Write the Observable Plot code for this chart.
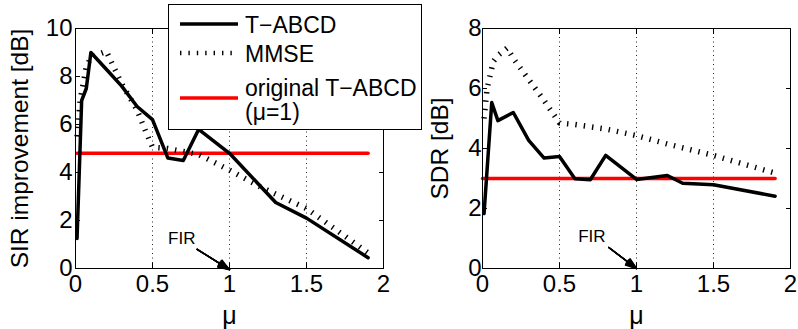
<!DOCTYPE html>
<html><head><meta charset="utf-8">
<script src="https://cdn.jsdelivr.net/npm/d3@7"></script>
<script src="https://cdn.jsdelivr.net/npm/@observablehq/plot@0.6"></script>
<style>
body{margin:0;background:#fff;font-family:"Liberation Sans",Arial,sans-serif;}
#wrap{position:relative;width:798px;height:329px;overflow:hidden;background:#fff;}
.panel{position:absolute;top:0;}
#legend{position:absolute;left:168px;top:4px;}
</style></head><body>
<div id="wrap"><div id="p1" class="panel" style="left:0"></div><div id="p2" class="panel" style="left:400px"></div><div id="legend"></div></div>
<script>
// ---- data ----
const xTicks = [0, 0.5, 1, 1.5, 2];
const xGrid = [0.5, 1, 1.5];
const sirTicks = [0, 2, 4, 6, 8, 10];
const sdrTicks = [0, 2, 4, 6, 8];
const seriesNames = ["T\u2212ABCD", "MMSE", "original T\u2212ABCD", "(\u03bc=1)"];

// SIR improvement (left)
const sirTabMu = [0.01, 0.04, 0.07, 0.1, 0.2, 0.3, 0.4, 0.5, 0.6, 0.7, 0.8, 1.0, 1.3, 1.5, 1.9];
const sirTab   = [1.25, 7.0, 7.5, 9.0, 8.3, 7.6, 6.75, 6.2, 4.6, 4.5, 5.8, 4.8, 2.75, 2.1, 0.45];
const sirMmseMu = [0.01, 0.03, 0.07, 0.1, 0.2, 0.3, 0.4, 0.45, 0.5, 0.6, 0.8, 1.0, 1.2, 1.5, 1.9];
const sirMmse   = [5.5, 7.0, 8.4, 8.8, 9.05, 7.7, 6.6, 5.8, 5.05, 5.0, 4.75, 4.1, 3.4, 2.5, 0.65];
const sirRefMu = [0.01, 1.9];
const sirRef   = [4.8, 4.8];

// SDR (right)
const sdrTabMu = [0.01, 0.06, 0.1, 0.2, 0.3, 0.4, 0.5, 0.6, 0.7, 0.8, 1.0, 1.2, 1.3, 1.5, 1.9];
const sdrTab   = [1.83, 5.53, 4.93, 5.2, 4.27, 3.68, 3.73, 2.99, 2.96, 3.77, 2.97, 3.1, 2.84, 2.79, 2.41];
const sdrMmseMu = [0.01, 0.03, 0.07, 0.1, 0.16, 0.2, 0.3, 0.4, 0.5, 0.6, 0.8, 1.0, 1.2, 1.5, 1.9];
const sdrMmse   = [5.0, 6.0, 6.9, 7.1, 7.35, 7.0, 6.3, 5.6, 4.85, 4.8, 4.65, 4.43, 4.15, 3.77, 3.18];
const sdrRefMu = [0.0, 1.9];
const sdrRef   = [3.0, 3.0];

// FIR annotations (text position, arrow start, arrow tip)
const firLabel = "FIR";
const sirFir = {tx: 0.69, ty: 1.25, x1: 0.79, y1: 0.8, x2: 1.0, y2: -0.05};
const sdrFir = {tx: 0.71, ty: 1.07, x1: 0.82, y1: 0.7, x2: 1.0, y2: 0.0};

const font = "Liberation Sans, Arial, Helvetica, sans-serif";
const hatch = "1.4 7";
const headAngles = [40, 32, 24, 16, 8];
const zip = (xs, ys) => xs.map((x, i) => ({x, y: ys[i]}));

function panel({width, marginLeft, marginRight, yDomain, yTicks, yLabel, yLabelDx, yPad, tabX, tabY, mmX, mmY, refX, refY, fir}) {
  return Plot.plot({
    width, height: 329, marginLeft, marginRight, marginTop: 28, marginBottom: 61,
    style: {fontFamily: font, fontSize: "24px", background: "transparent", overflow: "visible", color: "#000"},
    x: {domain: [0, 2]},
    y: {domain: yDomain},
    marks: [
      Plot.gridX(xGrid, {stroke: "#000", strokeOpacity: 0.85, strokeWidth: 1, strokeDasharray: "1 3.5"}),
      Plot.line(zip(refX, refY), {x: "x", y: "y", stroke: "#ff0000", strokeWidth: 3.5}),
      Plot.line(zip(mmX, mmY), {x: "x", y: "y", stroke: "#000", strokeWidth: 5.5, strokeDasharray: hatch, strokeLinecap: "butt"}),
      Plot.line(zip(tabX, tabY), {x: "x", y: "y", stroke: "#000", strokeWidth: 3.5, strokeLinejoin: "round"}),
      ...headAngles.map(a => Plot.arrow([fir], {x1: "x1", y1: "y1", x2: "x2", y2: "y2", stroke: "#000", strokeWidth: 1.4, headLength: 13, headAngle: a})),
      Plot.text([fir], {x: "tx", y: "ty", text: () => firLabel, fontSize: 17, fill: "#000"}),
      Plot.frame({stroke: "#000", strokeWidth: 1}),
      Plot.axisX({ticks: xTicks, tickSize: -5, tickPadding: 11, tickFormat: d => String(d), label: null, fontSize: 24}),
      Plot.axisX({anchor: "top", ticks: xTicks, tickSize: -5, tickFormat: () => "", label: null}),
      Plot.axisY({ticks: yTicks, tickSize: -5, tickPadding: yPad, tickFormat: d => String(d), label: null, fontSize: 24}),
      Plot.axisY({anchor: "right", ticks: yTicks, tickSize: -5, tickFormat: () => "", label: null}),
      Plot.text([yLabel], {text: d => d, frameAnchor: "left", dx: yLabelDx, rotate: -90, textAnchor: "middle", lineAnchor: "middle", fontSize: 24.5, fill: "#000"}),
      Plot.text(["\u03bc"], {text: d => d, frameAnchor: "bottom", dy: 47, textAnchor: "middle", lineAnchor: "middle", fontSize: 25, fill: "#000"})
    ]
  });
}

document.getElementById("p1").append(panel({
  width: 400, marginLeft: 75, marginRight: 17, yDomain: [0, 10], yTicks: sirTicks,
  yLabel: "SIR improvement [dB]", yLabelDx: -55, yPad: 8,
  tabX: sirTabMu, tabY: sirTab, mmX: sirMmseMu, mmY: sirMmse, refX: sirRefMu, refY: sirRef, fir: sirFir
}));
document.getElementById("p2").append(panel({
  width: 398, marginLeft: 82, marginRight: 8, yDomain: [0, 8], yTicks: sdrTicks,
  yLabel: "SDR [dB]", yLabelDx: -42, yPad: 6,
  tabX: sdrTabMu, tabY: sdrTab, mmX: sdrMmseMu, mmY: sdrMmse, refX: sdrRefMu, refY: sdrRef, fir: sdrFir
}));

// ---- legend ----
const lg = d3.select("#legend").append("svg").attr("width", 255).attr("height", 127)
  .style("font-family", font).style("font-size", "23px");
lg.append("rect").attr("x", 0.5).attr("y", 0.5).attr("width", 253).attr("height", 125).attr("fill", "#fff").attr("stroke", "#000");
const rows = [
  {ly: 20, stroke: "#000", w: 3.5, dash: null},
  {ly: 49, stroke: "#000", w: 4.5, dash: hatch},
  {ly: 94, stroke: "#ff0000", w: 3.5, dash: null}
];
rows.forEach(r => {
  const l = lg.append("line").attr("x1", 12).attr("x2", 70).attr("y1", r.ly).attr("y2", r.ly)
    .attr("stroke", r.stroke).attr("stroke-width", r.w);
  if (r.dash) l.attr("stroke-dasharray", r.dash);
});
const textY = [21, 50, 84, 108];
seriesNames.forEach((t, i) => {
  lg.append("text").attr("x", 77).attr("y", textY[i]).attr("dy", "0.36em").text(t);
});
</script>
</body></html>
